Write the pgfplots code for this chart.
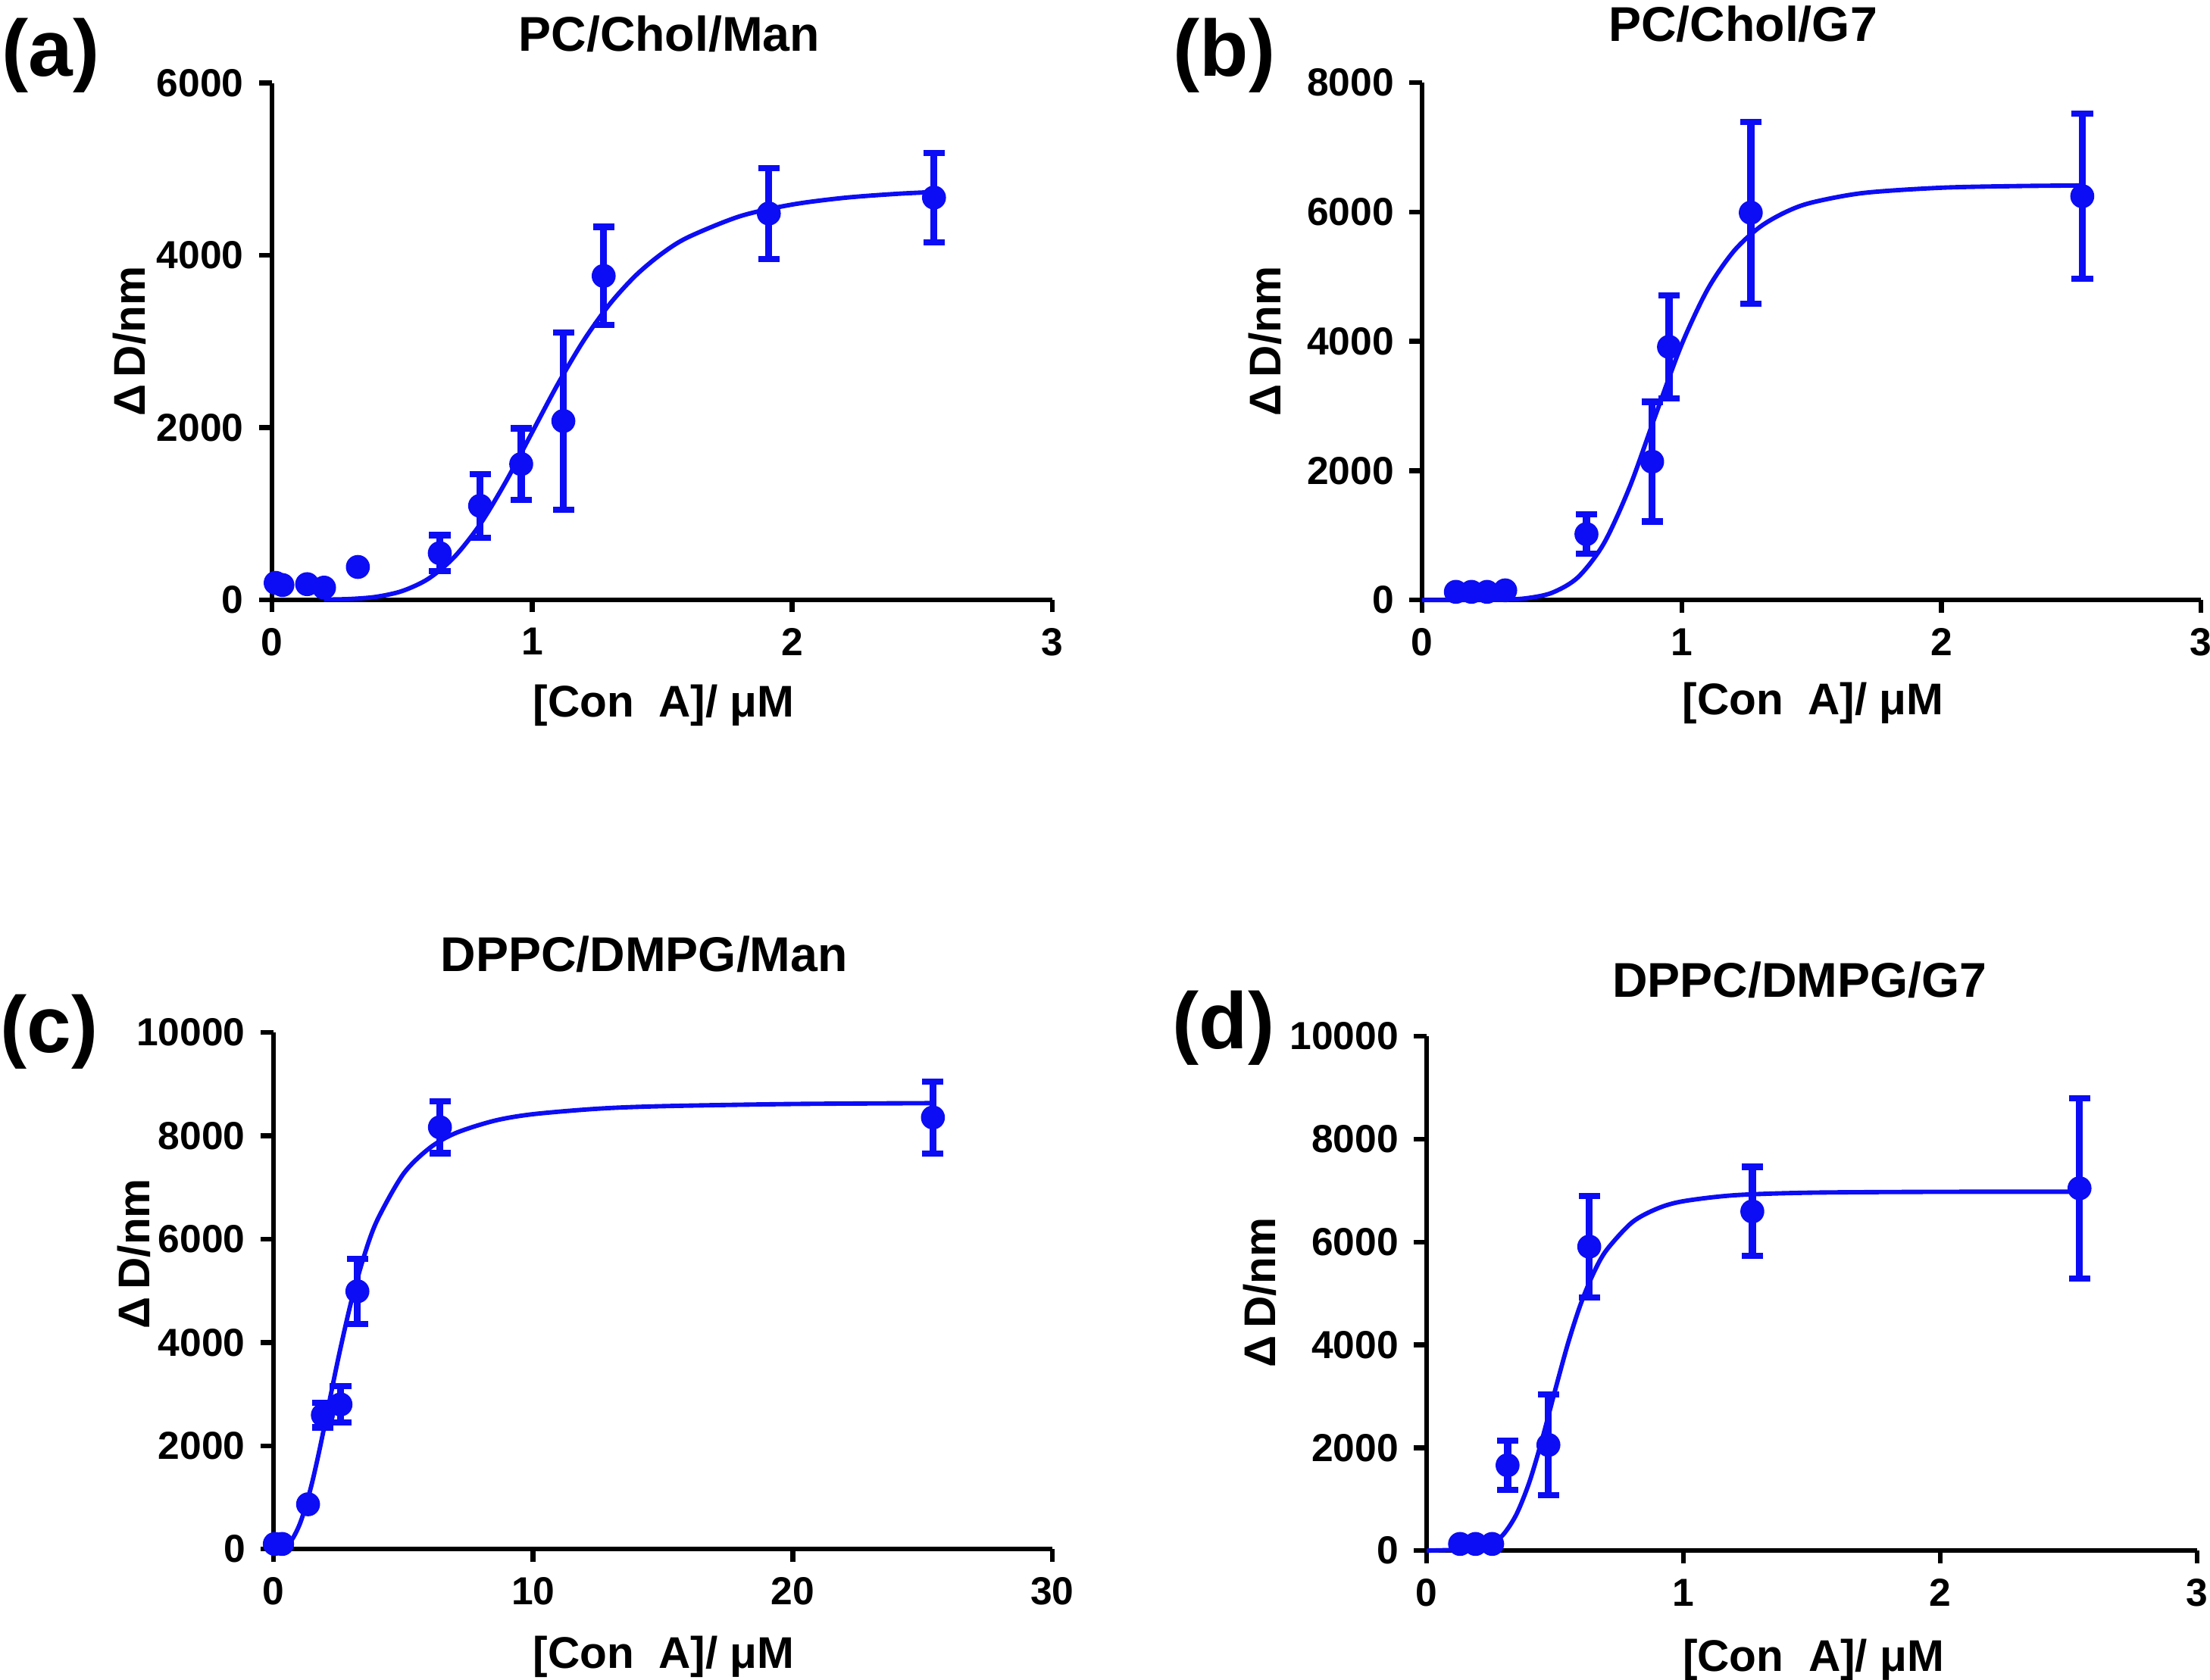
\documentclass[border=0pt]{standalone}
\usepackage{pgfplots}
\pgfplotsset{compat=1.18}
\usepackage{fontspec}
\setmainfont{Liberation Sans}

\definecolor{cb}{RGB}{12,12,245}

\pgfplotsset{
  panel/.style={
    scale only axis, anchor=south west,
    axis x line=bottom, axis y line=left,
    axis line style={-, line width=1.1pt, black},
    tick style={line width=1.1pt, black},
    major tick length=0.1cm,
    tick align=outside,
    xmin=0, ymin=0,
    clip=false,
    tick label style={font=\bfseries\fontsize{8.8}{10}\selectfont},
    /pgf/number format/assume math mode=true,
    /pgf/number format/1000 sep={},
    scaled ticks=false,
  },
  pts/.style={only marks, mark=*, mark size=2.5pt, color=cb,
    error bars/.cd, y dir=both, y explicit,
    error bar style={line width=1.6pt},
    error mark options={rotate=90, mark size=2.4pt, line width=1.4pt}},
  bare/.style={only marks, mark=*, mark size=2.5pt, color=cb},
  fit/.style={no marks, smooth, color=cb, line width=1pt},
}
\newcommand{\lbl}{\bfseries\fontsize{10}{12}\selectfont}
\newcommand{\ttl}{\bfseries\fontsize{11}{13}\selectfont}
\newcommand{\pl}{\bfseries\fontsize{18}{20}\selectfont}

\begin{document}
\begin{tikzpicture}

% (a) PC/Chol/Man
\begin{axis}[panel, at={(2.154cm,8.552cm)}, width=6.179cm, height=4.092cm,
  xmax=3, ymax=6000, xtick={0,1,2,3}, ytick={0,2000,4000,6000}]
  \addplot[fit] coordinates {
    (0.2,1) (0.3,8) (0.4,33) (0.5,100) (0.6,241) (0.7,493) (0.8,875)
    (0.9,1376) (1.0,1944) (1.1,2510) (1.2,3018) (1.3,3439) (1.4,3770)
    (1.5,4022) (1.6,4210) (1.8,4454) (2.0,4589) (2.2,4667) (2.4,4713) (2.55,4735)
  };
  \addplot[bare] coordinates {
    (0.014,195) (0.04,170) (0.135,180) (0.20,140) (0.33,380)
  };
  \addplot[pts] coordinates {
    (0.645,540) +- (0,210)
    (0.80,1090) +- (0,370)
    (0.958,1575) +- (0,415)
    (1.12,2075) +- (0,1030)
    (1.275,3760) +- (0,570)
    (1.91,4485) +- (0,530)
    (2.545,4670) +- (0,520)
  };
  \node[font=\ttl] at (axis description cs:0.509,1.095) {PC/Chol/Man};
  \node[font=\lbl] at (axis description cs:0.502,-0.204) {[Con\ \ A]/ μM};
  \node[font=\lbl, rotate=90] at (axis description cs:-0.183,0.5) {Δ\,D/nm};
\end{axis}

% (b) PC/Chol/G7
\begin{axis}[panel, at={(11.261cm,8.549cm)}, width=6.167cm, height=4.098cm,
  xmax=3, ymax=8000, xtick={0,1,2,3}, ytick={0,2000,4000,6000,8000}]
  \addplot[fit] coordinates {
    (0,0) (0.2,1) (0.3,4) (0.4,27) (0.5,112) (0.6,351) (0.7,875) (0.8,1753)
    (0.9,2869) (1.0,3954) (1.1,4806) (1.2,5392) (1.3,5766) (1.4,5999)
    (1.5,6146) (1.7,6295) (2.0,6376) (2.3,6402) (2.55,6411)
  };
  \addplot[bare] coordinates {
    (0.13,127) (0.19,127) (0.25,127) (0.32,150)
  };
  \addplot[pts] coordinates {
    (0.633,1020) +- (0,306)
    (0.886,2140) +- (0,925)
    (0.951,3915) +- (0,800)
    (1.266,5990) +- (0,1405)
    (2.543,6245) +- (0,1275)
  };
  \node[font=\ttl] at (axis description cs:0.412,1.113) {PC/Chol/G7};
  \node[font=\lbl] at (axis description cs:0.502,-0.199) {[Con\ \ A]/ μM};
  \node[font=\lbl, rotate=90] at (axis description cs:-0.2017,0.5) {Δ\,D/nm};
\end{axis}

% (c) DPPC/DMPG/Man
\begin{axis}[panel, at={(2.166cm,1.032cm)}, width=6.167cm, height=4.092cm,
  xmax=30, ymax=10000, xtick={0,10,20,30}, ytick={0,2000,4000,6000,8000,10000}]
  \addplot[fit] coordinates {
    (0,0) (0.5,71) (0.75,217) (1.0,472) (1.25,842) (1.5,1317) (1.75,1873)
    (2.0,2479) (2.5,3707) (3.0,4806) (3.5,5693) (4.0,6373) (5.0,7261)
    (6.0,7759) (7.0,8050) (8.5,8291) (10,8419) (12.5,8525) (15,8574)
    (20,8616) (25.4,8633)
  };
  \addplot[bare] coordinates {
    (0.05,100) (0.33,100) (1.33,868)
  };
  \addplot[pts] coordinates {
    (1.9,2595) +- (0,240)
    (2.58,2800) +- (0,350)
    (3.23,4990) +- (0,630)
    (6.41,8165) +- (0,500)
    (25.4,8355) +- (0,695)
  };
  \node[font=\ttl] at (axis description cs:0.476,1.152) {DPPC/DMPG/Man};
  \node[font=\lbl] at (axis description cs:0.501,-0.208) {[Con\ \ A]/ μM};
  \node[font=\lbl, rotate=90] at (axis description cs:-0.179,0.572) {Δ\,D/nm};
\end{axis}

% (d) DPPC/DMPG/G7
\begin{axis}[panel, at={(11.297cm,1.020cm)}, width=6.101cm, height=4.074cm,
  xmax=3, ymax=10000, xtick={0,1,2,3}, ytick={0,2000,4000,6000,8000,10000}]
  \addplot[fit] coordinates {
    (0,0) (0.2,36) (0.25,122) (0.3,323) (0.35,711) (0.4,1334) (0.45,2172)
    (0.5,3115) (0.55,4024) (0.6,4797) (0.65,5398) (0.7,5841) (0.8,6383)
    (0.9,6654) (1.0,6794) (1.2,6910) (1.5,6960) (2.0,6976) (2.55,6978)
  };
  \addplot[bare] coordinates {
    (0.13,130) (0.19,130) (0.255,130)
  };
  \addplot[pts] coordinates {
    (0.315,1660) +- (0,476)
    (0.474,2055) +- (0,977)
    (0.633,5910) +- (0,987)
    (1.268,6595) +- (0,867)
    (2.542,7045) +- (0,1753)
  };
  \node[font=\ttl] at (axis description cs:0.484,1.109) {DPPC/DMPG/G7};
  \node[font=\lbl] at (axis description cs:0.502,-0.212) {[Con\ \ A]/ μM};
  \node[font=\lbl, rotate=90] at (axis description cs:-0.217,0.502) {Δ\,D/nm};
\end{axis}

\node[font=\pl] at (0.402,12.862) {(a)};
\node[font=\pl] at (9.695,12.862) {(b)};
\node[font=\pl] at (0.390,5.129) {(c)};
\node[font=\pl] at (9.689,5.157) {(d)};

\pgfresetboundingbox
\useasboundingbox (0,0) rectangle (17.5,13.302);
\end{tikzpicture}
\end{document}
